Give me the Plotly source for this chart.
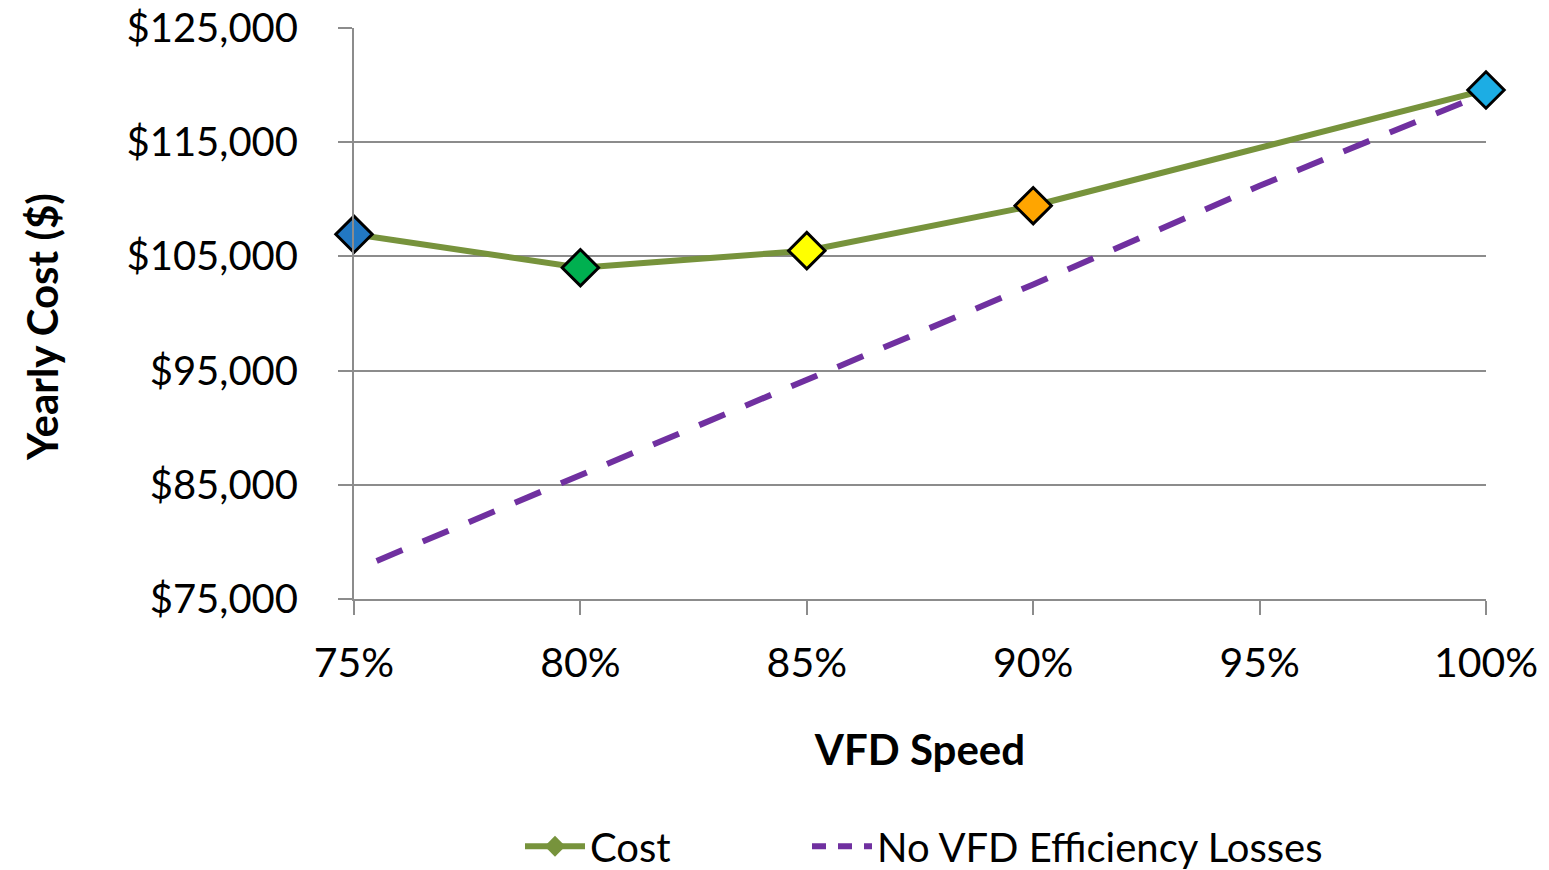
import plotly.graph_objects as go

speed_cost = [75, 80, 85, 90, 100]
cost = [106935, 104010, 105500, 109440, 119570]
cost_marker_colors = ["#2278C3", "#00B050", "#FFFF00", "#FFA500", "#1CADE4"]

speed_novfd = [75.5, 80, 85, 90, 95, 100]
cost_novfd = [78330, 85860, 94200, 102540, 111180, 119300]

x_ticks = [75, 80, 85, 90, 95, 100]
y_ticks = [75000, 85000, 95000, 105000, 115000, 125000]

FONT = "Lato, 'Open Sans', sans-serif"
GREEN = "#77933C"
PURPLE = "#7030A0"
GRID = "#8C8C8C"

# page body has an 8px default margin; figure is sized to compensate
OFF = 8
PL, PR = 354 - OFF, 1486 - OFF  # plot area in figure pixels
PT, PB = 28 - OFF, 599 - OFF

fig = go.Figure()

fig.add_trace(go.Scatter(
    x=speed_novfd, y=cost_novfd, mode="lines",
    name="No VFD Efficiency Losses",
    line=dict(color=PURPLE, width=6, dash="28px,22px"),
    showlegend=False, cliponaxis=False,
))

fig.add_trace(go.Scatter(
    x=speed_cost, y=cost, mode="lines+markers", name="Cost",
    line=dict(color=GREEN, width=6),
    marker=dict(symbol="diamond", size=28, color=cost_marker_colors,
                line=dict(color="black", width=3)),
    showlegend=False, cliponaxis=False,
))

# legend entries
fig.add_trace(go.Scatter(
    x=[None], y=[None], mode="lines+markers", name="Cost",
    line=dict(color=GREEN, width=6),
    marker=dict(symbol="diamond", size=26, color=GREEN),
    legend="legend",
))
fig.add_trace(go.Scatter(
    x=[None], y=[None], mode="lines", name="No VFD Efficiency Losses",
    line=dict(color=PURPLE, width=6, dash="14px,12px"),
    legend="legend2",
))

leg_common = dict(orientation="h", xref="paper", yref="paper", xanchor="left",
                  y=-0.433, yanchor="middle", font=dict(size=40),
                  itemwidth=60, bgcolor="rgba(0,0,0,0)")

fig.update_layout(
    width=1549 - OFF, height=870 - OFF,
    margin=dict(l=PL, r=1549 - OFF - PR, t=PT, b=870 - OFF - PB, autoexpand=False),
    paper_bgcolor="white", plot_bgcolor="white",
    font=dict(family=FONT, size=40, color="black"),
    legend=dict(x=(520 - OFF - PL) / (PR - PL), **leg_common),
    legend2=dict(x=(807 - OFF - PL) / (PR - PL), **leg_common),
    annotations=[dict(
        text="<b>Yearly Cost ($)</b>", textangle=-90,
        xref="paper", yref="paper",
        x=(42 - OFF - PL) / (PR - PL), y=(PB - (327 - OFF)) / (PB - PT),
        xanchor="center", yanchor="middle", showarrow=False,
        font=dict(size=42),
    )],
)

fig.update_xaxes(
    range=[75, 100], tickvals=x_ticks,
    ticktext=[f"{v}%" for v in x_ticks],
    showgrid=False, zeroline=False, automargin=False,
    showline=True, linecolor=GRID, linewidth=2,
    ticks="outside", ticklen=14, tickcolor=GRID, tickwidth=2,
    ticklabelstandoff=13, ticklabeloverflow="allow",
    tickfont=dict(size=41),
    title=dict(text="<b>VFD Speed</b>", font=dict(size=42), standoff=50),
)

fig.update_yaxes(
    range=[75000, 125000], tickvals=y_ticks,
    ticktext=[f"${v:,}" for v in y_ticks],
    showgrid=True, gridcolor=GRID, gridwidth=2, zeroline=False,
    automargin=False,
    showline=True, linecolor=GRID, linewidth=2,
    ticks="outside", ticklen=14, tickcolor=GRID, tickwidth=2,
    ticklabelstandoff=32, ticklabeloverflow="allow",
    tickfont=dict(size=40),
)

fig.write_html("out.html")
